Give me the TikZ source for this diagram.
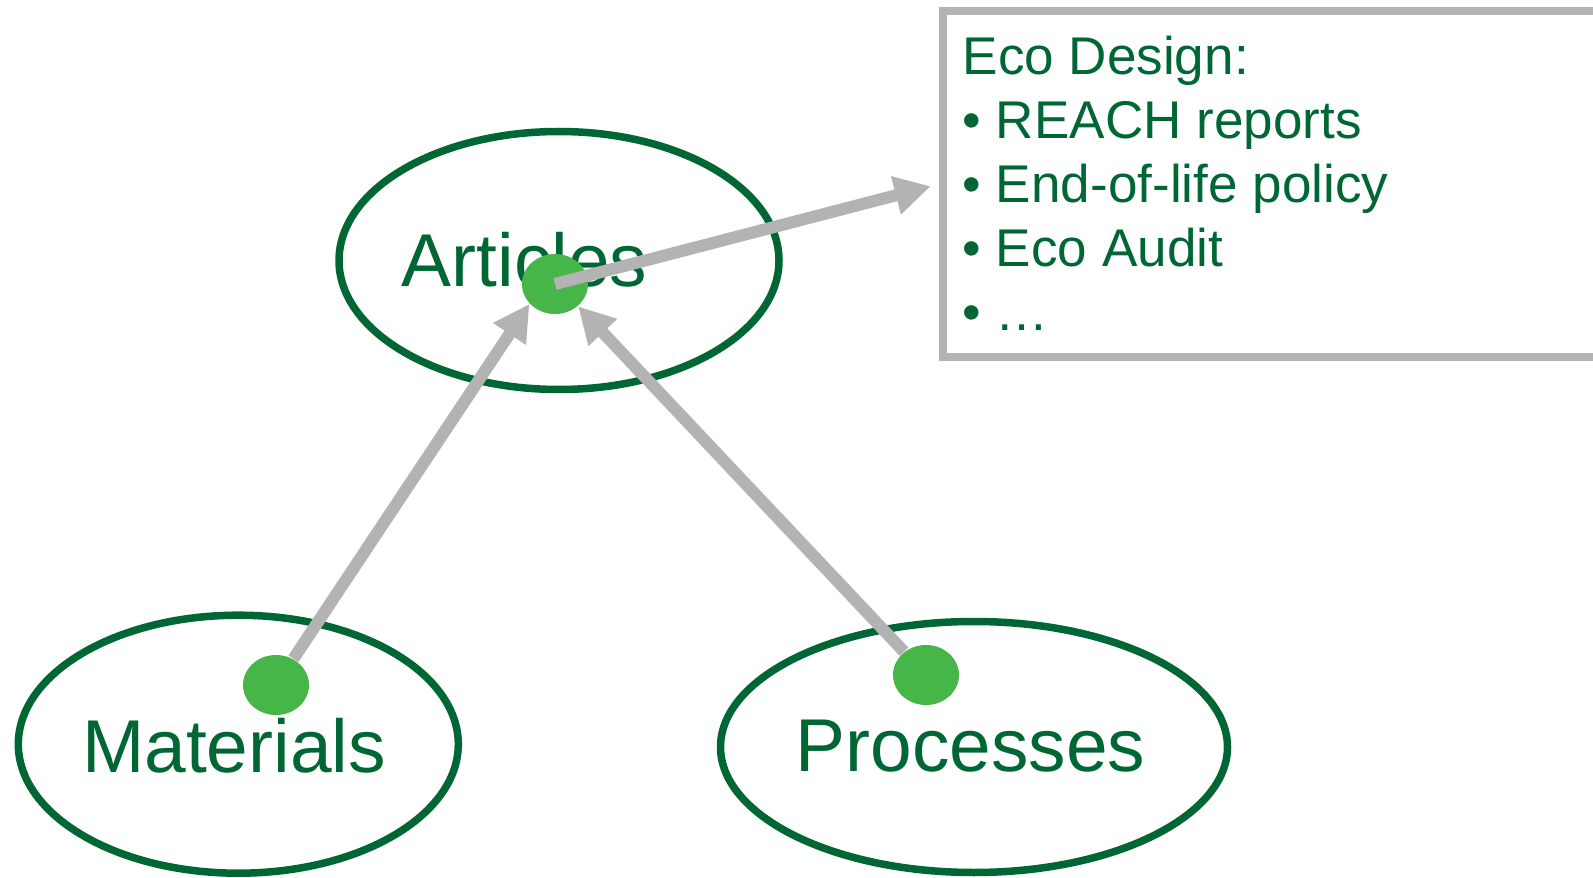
\documentclass[tikz,border=0pt]{standalone}
\usepackage{fontspec}
\setmainfont{Liberation Sans}
\usetikzlibrary{shapes.geometric}
\usetikzlibrary{arrows.meta}
\definecolor{ecogreen}{RGB}{0,102,51}
\definecolor{hubgreen}{RGB}{71,182,73}
\definecolor{arrgray}{RGB}{179,179,179}

\begin{document}
\begin{tikzpicture}[
    set/.style={shape=ellipse,draw=ecogreen,line width=0.075cm,inner sep=0pt},
    hub/.style={shape=ellipse,fill=hubgreen,inner sep=0pt,minimum width=0.66cm,minimum height=0.60cm},
    lbl/.style={text=ecogreen,anchor=base,inner sep=0pt,font=\fontsize{21.3pt}{25pt}\selectfont},
    arr/.style={color=arrgray,line width=0.12cm,-{Triangle[length=0.36cm,width=0.37cm]}}]
    \useasboundingbox (0,0) rectangle (15.93,8.77);
    % the three sets
    \node[set,minimum width=4.40cm,minimum height=2.58cm] (A) at (5.59,6.165) {};
    \node[set,minimum width=4.40cm,minimum height=2.58cm] (M) at (2.383,1.328) {};
    \node[set,minimum width=5.07cm,minimum height=2.51cm] (P) at (9.74,1.30) {};
    \node[lbl] (At) at (5.245,5.903) {Articles};
    \node[lbl] (Mt) at (2.34,1.043) {Materials};
    \node[lbl] (Pt) at (9.705,1.06) {Processes};
    \node[hub] (a) at (5.55,5.93) {};
    \node[hub] (m) at (2.76,1.92) {};
    \node[hub] (p) at (9.26,2.02) {};
    % report box
    \node[shape=rectangle,draw=arrgray,line width=0.08cm,minimum width=7.18cm,minimum height=3.465cm] (B) at (13.015,6.9275) {};
    \node[anchor=north west,align=left,inner sep=0pt,text=ecogreen,font=\fontsize{15.1pt}{18.2pt}\selectfont] (Bt) at (9.62,8.42)
        {Eco Design:\\\textbullet\ REACH reports\\\textbullet\ End-of-life policy\\\textbullet\ Eco Audit\\\textbullet\ …};
    \path (m) edge [arr] (a.218);
    \path (p) edge [arr] (a.-44);
    \path (a.center) edge [arr,shorten >=0.08cm] (B.west);
\end{tikzpicture}
\end{document}
